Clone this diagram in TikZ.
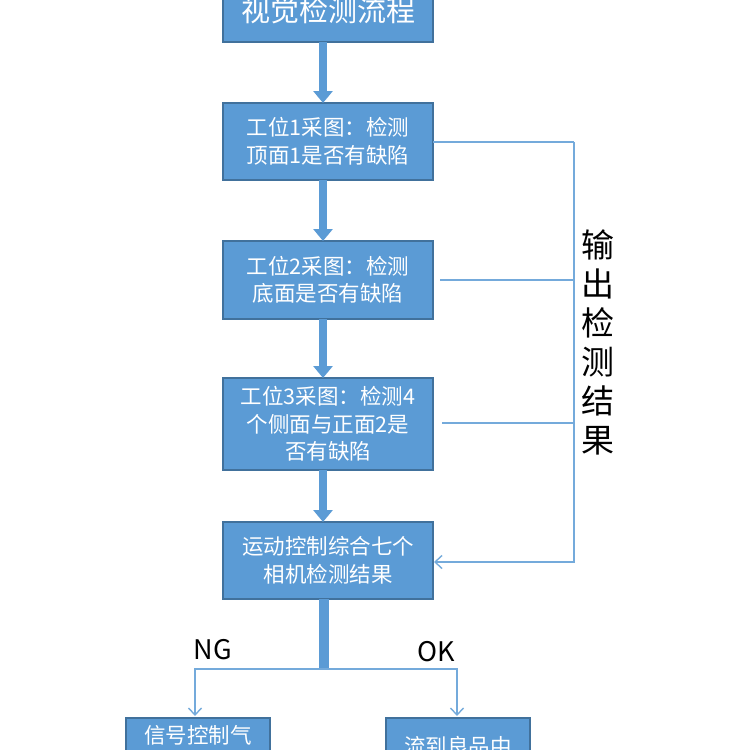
\documentclass[tikz,border=0pt]{standalone}
\usepackage{fontspec}
\setmainfont{Noto Sans CJK SC}
\usetikzlibrary{arrows.meta}
\definecolor{boxblue}{HTML}{5B9BD5}
\definecolor{boxedge}{HTML}{41719C}
\tikzset{
  flowbox/.style={draw=boxedge, line width=1.2pt, fill=boxblue, text=white, minimum width=210pt, align=center, inner sep=0pt, font=\fontsize{21.5}{27.5}\selectfont},
  smallbox/.style={draw=boxedge, line width=1.2pt, fill=boxblue, text=white, minimum width=144pt, minimum height=70pt, inner sep=0pt},
  thickarrow/.style={draw=boxblue, line width=8pt, -{Triangle[width=19pt,length=12pt]}, shorten >=0pt},
  thinline/.style={draw=boxblue!85, line width=1.4pt},
  thinarrow/.style={thinline, -{Straight Barb[width=13pt,length=7pt,line width=1.4pt]}},
}
\begin{document}
\begin{tikzpicture}[x=1pt,y=-1pt]
\useasboundingbox (0,0) rectangle (750,750);
\fill[white] (0,0) rectangle (750,750);
% boxes
\node[flowbox, minimum height=64pt, font=\fontsize{29}{30}\selectfont] (top) at (328,10) {视觉检测流程};
\node[flowbox, minimum height=77pt] (b1) at (328,141.5) {工位1采图：检测\\顶面1是否有缺陷};
\node[flowbox, minimum height=78pt] (b2) at (328,280) {工位2采图：检测\\底面是否有缺陷};
\node[flowbox, minimum height=92pt] (b3) at (328,424) {工位3采图：检测4\\个侧面与正面2是\\否有缺陷};
\node[flowbox, minimum height=77pt] (b4) at (328,560.5) {运动控制综合七个\\相机检测结果};
\node[smallbox, minimum height=70pt] (ng) at (198,753) {};
\node[smallbox, minimum height=70pt] (ok) at (458,753) {};
\node[text=white, font=\fontsize{21.5}{27}\selectfont] (ngt) at (198,735) {信号控制气};
\node[text=white, font=\fontsize{21.5}{27}\selectfont] (okt) at (458,746) {流到良品中};
% thick arrows
\draw[thickarrow] (323,42) -- (323,103);
\draw[thickarrow] (323,180) -- (323,241);
\draw[thickarrow] (323,319) -- (323,378);
\draw[thickarrow] (323,470) -- (323,522);
% stem and branches
\coordinate (split) at (324,669);
\draw[draw=boxblue, line width=10pt] (324,599) -- (324,669);
\draw[thinarrow] (330,669) -- (195,669) -- (195,716);
\draw[thinarrow] (318,669) -- (457,669) -- (457,716);
\node[font=\fontsize{27}{27}\selectfont] (ngl) at (213,650) {NG};
\node[font=\fontsize{27}{27}\selectfont] (okl) at (436,652) {OK};
% feedback
\draw[thinline] (433,142) -- (574,142);
\draw[thinline] (440,280) -- (574,280);
\draw[thinline] (442,423) -- (574,423);
\draw[thinarrow] (574,142) -- (574,562) -- (434,562);
\node[font=\fontsize{33}{39}\selectfont, align=center] (lbl) at (598,342) {输\\出\\检\\测\\结\\果};
\end{tikzpicture}
\end{document}
